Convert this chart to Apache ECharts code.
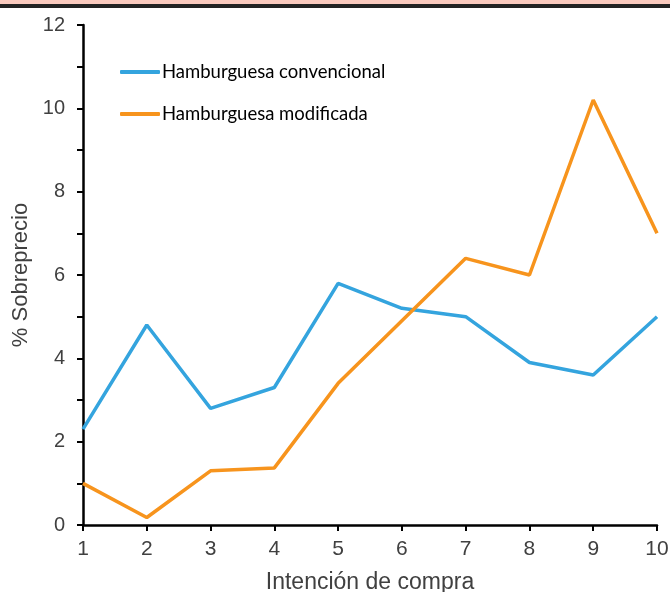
<!DOCTYPE html>
<html><head><meta charset="utf-8">
<script src="https://cdn.jsdelivr.net/npm/echarts@6/dist/echarts.min.js"></script>
<style>html,body{margin:0;padding:0;background:#fff}#c{width:670px;height:592px}</style>
</head><body><div id="c"></div>
<script>
const categories = [1,2,3,4,5,6,7,8,9,10];
const convencional = [2.3,4.8,2.8,3.3,5.8,5.2,5.0,3.9,3.6,5.0];
const modificada = [1.0,0.18,1.3,1.37,3.4,4.9,6.4,6.0,10.2,7.0];
const seriesNames = ['Hamburguesa convencional','Hamburguesa modificada'];
const yTicks = [0,2,4,6,8,10,12];

const chart = echarts.init(document.getElementById('c'));
const mk = arr => arr.map((v,i)=>[categories[i], v]);
chart.setOption({
  animation:false,
  graphic:[
    {type:'rect', shape:{x:0,y:0,width:670,height:4}, style:{fill:'#f9c9bd'}, z:100},
    {type:'rect', shape:{x:0,y:4,width:670,height:4}, style:{fill:'#222222'}, z:100}
  ],
  grid:{left:83,right:13,top:25,bottom:67, outerBoundsMode:'none', containLabel:false},
  legend:{
    orient:'vertical', left:115, top:57, itemGap:22,
    itemWidth:40, itemHeight:4, icon:'roundRect', itemStyle:{borderWidth:0},
    textStyle:{fontFamily:'Lato', fontSize:18.5, lineHeight:20, color:'#000', padding:[0,0,0,-3]},
    data:seriesNames
  },
  xAxis:{
    type:'value', min:1, max:10, interval:1,
    name:'Intención de compra', nameLocation:'middle', nameGap:46,
    nameTextStyle:{fontFamily:'Liberation Sans', fontSize:23, color:'#404040'},
    axisLine:{show:true, onZero:false, lineStyle:{color:'#000', width:2.5}},
    axisTick:{show:true, length:6, lineStyle:{color:'#000', width:2}},
    axisLabel:{fontFamily:'Liberation Sans', fontSize:21, color:'#404040', margin:14},
    splitLine:{show:false}
  },
  yAxis:{
    type:'value', min:0, max:12, interval:1,
    name:'% Sobreprecio', nameLocation:'middle', nameGap:51,
    nameTextStyle:{fontFamily:'Liberation Sans', fontSize:22, color:'#404040'},
    axisLine:{show:true, lineStyle:{color:'#000', width:2.5}},
    axisTick:{show:true, length:6, lineStyle:{color:'#000', width:2}},
    axisLabel:{fontFamily:'Liberation Sans', fontSize:20, color:'#404040', margin:18,
      formatter:v=> yTicks.includes(v) ? String(v) : ''},
    splitLine:{show:false}
  },
  series:[
    {name:seriesNames[0], type:'line', data:mk(convencional), showSymbol:false, symbol:'none',
     lineStyle:{color:'#34a4de', width:3.5}, itemStyle:{color:'#34a4de'}},
    {name:seriesNames[1], type:'line', data:mk(modificada), showSymbol:false, symbol:'none',
     lineStyle:{color:'#f7941d', width:3.5}, itemStyle:{color:'#f7941d'}}
  ]
});
</script></body></html>
